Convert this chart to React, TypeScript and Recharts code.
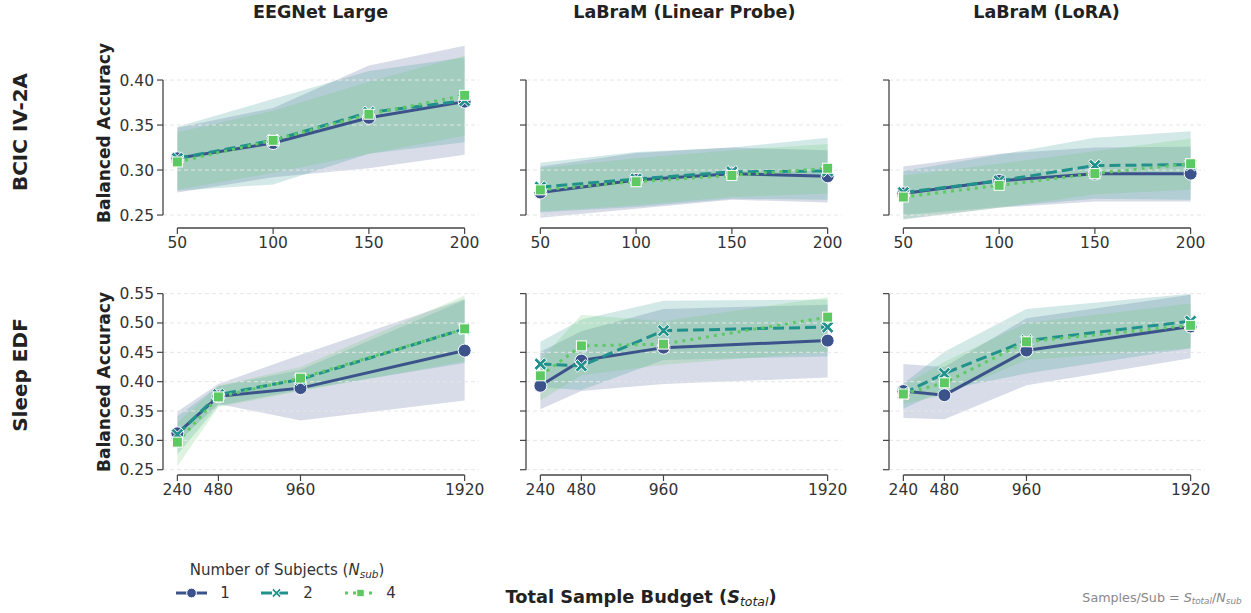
import React from 'react';
import { ComposedChart, Line, Area, XAxis, YAxis, ReferenceLine } from 'recharts';

const FONT = '"DejaVu Sans", sans-serif';

// axes / labels
const topBudgets = [50, 100, 150, 200];
const bottomBudgets = [240, 480, 960, 1920];
const topYTicks = [0.25, 0.3, 0.35, 0.4];
const bottomYTicks = [0.25, 0.3, 0.35, 0.4, 0.45, 0.5, 0.55];
const subjectLevels = ['1', '2', '4'];
const columnTitles = ['EEGNet Large', 'LaBraM (Linear Probe)', 'LaBraM (LoRA)'];
const rowLabels = ['BCIC IV-2A', 'Sleep EDF'];

// BCIC IV-2A, rows = N_sub 1, 2, 4
const bcicEegnetMean = [
  [0.313, 0.330, 0.358, 0.376],
  [0.313, 0.333, 0.364, 0.377],
  [0.309, 0.333, 0.362, 0.383],
];
const bcicEegnetLow = [
  [0.275, 0.292, 0.302, 0.317],
  [0.277, 0.284, 0.318, 0.331],
  [0.278, 0.297, 0.318, 0.338],
];
const bcicEegnetHigh = [
  [0.347, 0.369, 0.416, 0.438],
  [0.348, 0.379, 0.410, 0.425],
  [0.342, 0.366, 0.398, 0.427],
];

const bcicLinearMean = [
  [0.275, 0.289, 0.296, 0.293],
  [0.281, 0.290, 0.298, 0.299],
  [0.278, 0.287, 0.294, 0.302],
];
const bcicLinearLow = [
  [0.247, 0.257, 0.267, 0.264],
  [0.253, 0.259, 0.268, 0.267],
  [0.254, 0.261, 0.270, 0.274],
];
const bcicLinearHigh = [
  [0.304, 0.319, 0.325, 0.322],
  [0.308, 0.320, 0.325, 0.336],
  [0.302, 0.313, 0.322, 0.329],
];

const bcicLoraMean = [
  [0.274, 0.288, 0.296, 0.296],
  [0.275, 0.288, 0.305, 0.306],
  [0.270, 0.283, 0.296, 0.307],
];
const bcicLoraLow = [
  [0.245, 0.258, 0.265, 0.265],
  [0.250, 0.259, 0.268, 0.267],
  [0.246, 0.258, 0.273, 0.278],
];
const bcicLoraHigh = [
  [0.304, 0.318, 0.325, 0.326],
  [0.299, 0.317, 0.336, 0.343],
  [0.294, 0.307, 0.321, 0.335],
];

// Sleep EDF
const sleepEegnetMean = [
  [0.312, 0.375, 0.389, 0.453],
  [0.310, 0.378, 0.404, 0.490],
  [0.297, 0.374, 0.406, 0.490],
];
const sleepEegnetLow = [
  [0.297, 0.362, 0.334, 0.368],
  [0.276, 0.359, 0.386, 0.432],
  [0.256, 0.357, 0.384, 0.435],
];
const sleepEegnetHigh = [
  [0.349, 0.396, 0.446, 0.541],
  [0.341, 0.392, 0.420, 0.539],
  [0.330, 0.393, 0.425, 0.547],
];

const sleepLinearMean = [
  [0.393, 0.436, 0.458, 0.470],
  [0.430, 0.427, 0.487, 0.493],
  [0.410, 0.461, 0.464, 0.510],
];
const sleepLinearLow = [
  [0.353, 0.384, 0.396, 0.407],
  [0.390, 0.386, 0.437, 0.443],
  [0.368, 0.411, 0.429, 0.451],
];
const sleepLinearHigh = [
  [0.451, 0.486, 0.524, 0.531],
  [0.468, 0.506, 0.538, 0.540],
  [0.437, 0.514, 0.503, 0.544],
];

const sleepLoraMean = [
  [0.384, 0.377, 0.453, 0.494],
  [0.380, 0.414, 0.470, 0.503],
  [0.379, 0.398, 0.468, 0.496],
];
const sleepLoraLow = [
  [0.338, 0.336, 0.394, 0.440],
  [0.354, 0.386, 0.414, 0.457],
  [0.363, 0.377, 0.437, 0.457],
];
const sleepLoraHigh = [
  [0.430, 0.425, 0.508, 0.548],
  [0.397, 0.451, 0.524, 0.550],
  [0.393, 0.434, 0.500, 0.533],
];

const COLORS = ['#3b528b', '#21918c', '#5ec962'];
const DASHES = [undefined, '11 5', '3 5'];
const MARKERS = ['circle', 'x', 'square'];

const TICK_COLOR = '#333';
const SPINE = '#444';

const COL_LEFT = [162.6, 526.4, 888.5];
const PLOT_W = 316;
const Y_W = 60;

function Marker({ kind, cx, cy, color, scale = 1 }: any) {
  if (kind === 'circle') {
    return <circle cx={cx} cy={cy} r={6.5 * scale} fill={color} stroke="#fff" strokeWidth={1} />;
  }
  if (kind === 'square') {
    const s = 10 * scale;
    return <rect x={cx - s / 2} y={cy - s / 2} width={s} height={s} fill={color} stroke="#fff" strokeWidth={1} />;
  }
  const a = 6.3 * scale;
  const b = 2.4 * scale;
  const pts = [
    [-a, -a + b], [-a + b, -a], [0, -b], [a - b, -a], [a, -a + b], [b, 0],
    [a, a - b], [a - b, a], [0, b], [-a + b, a], [-a, a - b], [-b, 0],
  ].map(([px, py]) => `${cx + px},${cy + py}`).join(' ');
  return <polygon points={pts} fill={color} stroke="#fff" strokeWidth={1} />;
}

function Panel({ left, top, plotH, xs, xDomain, yDomain, yTicks, mean, low, high, showY }: any) {
  const data = xs.map((x: number, i: number) => ({
    x,
    m0: mean[0][i], m1: mean[1][i], m2: mean[2][i],
    b0: [low[0][i], high[0][i]],
    b1: [low[1][i], high[1][i]],
    b2: [low[2][i], high[2][i]],
  }));
  const tickStyle = { fontSize: 15.5, fill: TICK_COLOR, fontFamily: FONT };
  return (
    <div style={{ position: 'absolute', left: left - Y_W, top: top - 5 }}>
      <ComposedChart width={Y_W + PLOT_W + 10} height={5 + plotH + 32} data={data}
        margin={{ top: 5, right: 10, left: 0, bottom: 0 }}>
        <XAxis dataKey="x" type="number" domain={xDomain} ticks={xs} allowDataOverflow
          axisLine={false} tickLine={{ stroke: SPINE, strokeWidth: 1.2 }} tickSize={6} tickMargin={3}
          height={32} tick={tickStyle} interval={0} />
        <YAxis type="number" domain={yDomain} ticks={yTicks} allowDataOverflow width={Y_W}
          axisLine={false} tickLine={{ stroke: SPINE, strokeWidth: 1.2 }} tickSize={6} tickMargin={3}
          tick={showY ? tickStyle : () => <g />} tickFormatter={(v: number) => v.toFixed(2)} interval={0} />
        {yTicks.map((t: number) => (
          <ReferenceLine key={'g' + t} y={t} stroke="#e6e6e6" strokeDasharray="4 3" strokeWidth={1} />
        ))}
        <ReferenceLine segment={[{ x: xDomain[0], y: yTicks[0] }, { x: xDomain[0], y: yTicks[yTicks.length - 1] }]}
          stroke={SPINE} strokeWidth={1.3} ifOverflow="visible" />
        <ReferenceLine segment={[{ x: xs[0], y: yDomain[0] }, { x: xs[xs.length - 1], y: yDomain[0] }]}
          stroke={SPINE} strokeWidth={1.3} ifOverflow="visible" />
        {[0, 1, 2].map((k) => (
          <Area key={'b' + k} type="linear" dataKey={'b' + k} stroke="none" fill={COLORS[k]}
            fillOpacity={0.2} isAnimationActive={false} dot={false} activeDot={false} />
        ))}
        {[0, 1, 2].map((k) => (
          <Line key={'m' + k} type="linear" dataKey={'m' + k} stroke={COLORS[k]} strokeWidth={3}
            strokeDasharray={DASHES[k]} isAnimationActive={false} activeDot={false}
            dot={(p: any) => (
              <g key={`d${k}-${p.index}`}>
                <Marker kind={MARKERS[k]} cx={p.cx} cy={p.cy} color={COLORS[k]} />
              </g>
            )} />
        ))}
      </ComposedChart>
    </div>
  );
}

const Sub = ({ children }: any) => (
  <sub style={{ fontSize: '70%', fontStyle: 'italic', verticalAlign: '-0.25em', fontWeight: 'normal' }}>{children}</sub>
);

function CenterText({ x, y, rotate = 0, style, children }: any) {
  return (
    <div style={{
      position: 'absolute', left: x, top: y, whiteSpace: 'nowrap', lineHeight: 1,
      transform: `translate(-50%, -50%) rotate(${rotate}deg)`, fontFamily: FONT, ...style,
    }}>{children}</div>
  );
}

export default function App() {
  const rows = [
    { top: 37, plotH: 191, xs: topBudgets, xDomain: [42.5, 207.5], yDomain: [0.2356, 0.4478], yTicks: topYTicks,
      panels: [
        [bcicEegnetMean, bcicEegnetLow, bcicEegnetHigh],
        [bcicLinearMean, bcicLinearLow, bcicLinearHigh],
        [bcicLoraMean, bcicLoraLow, bcicLoraHigh],
      ] },
    { top: 285.4, plotH: 190, xs: bottomBudgets, xDomain: [156, 2004], yDomain: [0.241, 0.5647], yTicks: bottomYTicks,
      panels: [
        [sleepEegnetMean, sleepEegnetLow, sleepEegnetHigh],
        [sleepLinearMean, sleepLinearLow, sleepLinearHigh],
        [sleepLoraMean, sleepLoraLow, sleepLoraHigh],
      ] },
  ];
  const legendX = [176, 261, 345];
  const legendLabelX = [225, 308, 391];

  return (
    <div style={{ position: 'absolute', left: 0, top: 0, width: 1251, height: 613, background: '#fff', overflow: 'hidden', fontFamily: FONT }}>
      {rows.map((r, ri) => r.panels.map((p, ci) => (
        <Panel key={`${ri}-${ci}`} left={COL_LEFT[ci]} top={r.top} plotH={r.plotH} xs={r.xs}
          xDomain={r.xDomain} yDomain={r.yDomain} yTicks={r.yTicks}
          mean={p[0]} low={p[1]} high={p[2]} showY={ci === 0} />
      )))}

      {columnTitles.map((t, i) => (
        <CenterText key={t} x={COL_LEFT[i] + PLOT_W / 2} y={13} style={{ fontSize: 17.5, fontWeight: 'bold', color: '#222' }}>{t}</CenterText>
      ))}
      <CenterText x={20} y={132} rotate={-90} style={{ fontSize: 20, fontWeight: 'bold', color: '#222' }}>{rowLabels[0]}</CenterText>
      <CenterText x={20} y={374.5} rotate={-90} style={{ fontSize: 20, fontWeight: 'bold', color: '#222' }}>{rowLabels[1]}</CenterText>
      <CenterText x={104} y={132.8} rotate={-90} style={{ fontSize: 17, fontWeight: 'bold', color: '#222' }}>Balanced Accuracy</CenterText>
      <CenterText x={104} y={381.5} rotate={-90} style={{ fontSize: 17, fontWeight: 'bold', color: '#222' }}>Balanced Accuracy</CenterText>

      <CenterText x={641} y={598} style={{ fontSize: 17.8, fontWeight: 'bold', color: '#222' }}>
        Total Sample Budget (<i>S</i><Sub>total</Sub>)
      </CenterText>
      <CenterText x={1162} y={599} style={{ fontSize: 12.7, color: '#888' }}>
        Samples/Sub = <i>S</i><Sub>total</Sub>/<i>N</i><Sub>sub</Sub>
      </CenterText>

      <CenterText x={287} y={571} style={{ fontSize: 15, color: '#333' }}>
        Number of Subjects (<i>N</i><Sub>sub</Sub>)
      </CenterText>
      <svg style={{ position: 'absolute', left: 0, top: 583 }} width={420} height={22}>
        {subjectLevels.map((lvl, k) => (
          <g key={lvl}>
            <line x1={legendX[k]} x2={legendX[k] + 31} y1={10} y2={10} stroke={COLORS[k]} strokeWidth={3}
              strokeDasharray={DASHES[k]} />
            <Marker kind={MARKERS[k]} cx={legendX[k] + 15.5} cy={10} color={COLORS[k]} scale={0.75} />
            <text x={legendLabelX[k]} y={10} dy="0.36em" textAnchor="middle" fontSize={15} fill="#333" fontFamily={FONT}>{lvl}</text>
          </g>
        ))}
      </svg>
    </div>
  );
}
